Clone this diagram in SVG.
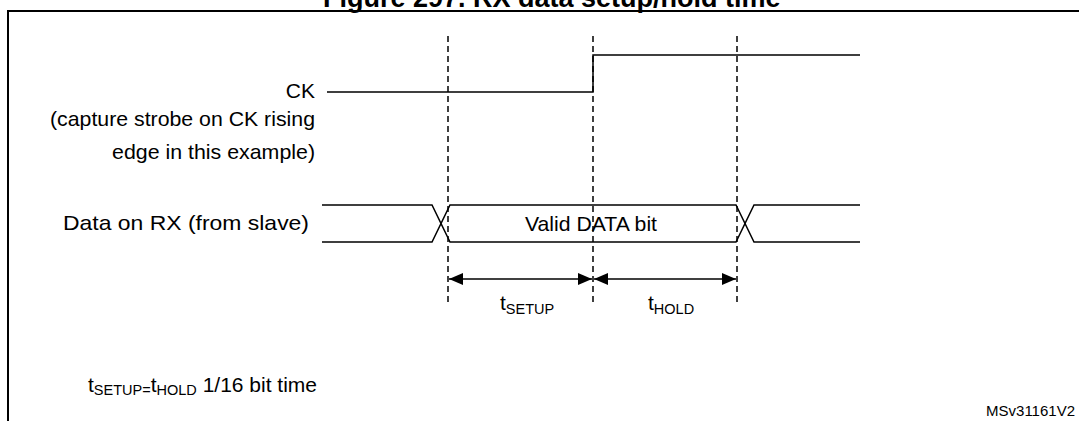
<svg xmlns="http://www.w3.org/2000/svg" width="1079" height="421" viewBox="0 0 1079 421">
<style>
.t{font-family:"Liberation Sans",Arial,sans-serif;fill:#000}
.lbl{font-size:21px}
.sig{stroke:#000;stroke-width:1.5;fill:none}
.dash{stroke:#000;stroke-width:1.5;stroke-dasharray:6 4;fill:none}
.dim{stroke:#000;stroke-width:1.5;fill:none;marker-start:url(#ah);marker-end:url(#ah)}
</style>
<defs>
<marker id="ah" viewBox="0 0 14 12" refX="14" refY="6" markerWidth="14" markerHeight="12" markerUnits="userSpaceOnUse" orient="auto-start-reverse">
<path d="M0,0 L14,6 L0,12 Z" fill="#000"/>
</marker>
</defs>
<rect width="1079" height="421" fill="#fff"/>
<text class="t" x="323" y="7" font-size="27" font-weight="bold">Figure 297. RX data setup/hold time</text>
<path d="M8,421 V11 H1079" stroke="#000" stroke-width="2" fill="none"/>
<g id="guides">
<line class="dash" x1="448" y1="36" x2="448" y2="302"/>
<line class="dash" x1="593" y1="36" x2="593" y2="302"/>
<line class="dash" x1="737" y1="36" x2="737" y2="302"/>
</g>
<g id="ck">
<text class="t lbl" x="315" y="98" text-anchor="end">CK</text>
<text class="t lbl" x="315" y="126" text-anchor="end" textLength="265" lengthAdjust="spacingAndGlyphs">(capture strobe on CK rising</text>
<text class="t lbl" x="315" y="159" text-anchor="end" textLength="203" lengthAdjust="spacingAndGlyphs">edge in this example)</text>
<path class="sig" d="M327,92 H593 V55 H860"/>
</g>
<g id="data">
<text class="t lbl" x="309" y="230" text-anchor="end" textLength="246" lengthAdjust="spacingAndGlyphs">Data on RX (from slave)</text>
<path class="sig" d="M322,205 H432 L450,242 H736 L754,205 H860"/>
<path class="sig" d="M322,242 H432 L450,205 H736 L754,242 H860"/>
<text class="t lbl" x="591" y="231" text-anchor="middle" textLength="132" lengthAdjust="spacingAndGlyphs">Valid DATA bit</text>
</g>
<g id="connectors">
<line class="dim" x1="449" y1="279" x2="592" y2="279"/>
<line class="dim" x1="594" y1="279" x2="736" y2="279"/>
</g>
<g id="labels">
<text class="t lbl" x="500" y="310">t<tspan font-size="14.5" dy="4">SETUP</tspan></text>
<text class="t lbl" x="648" y="310">t<tspan font-size="14.5" dy="4">HOLD</tspan></text>
<text class="t" x="88" y="392" font-size="21">t<tspan font-size="14.5" dy="3">SETUP=</tspan><tspan dy="-3">t</tspan><tspan font-size="14.5" dy="3">HOLD</tspan><tspan dy="-3"> 1/16 bit time</tspan></text>
<text class="t" x="1075" y="416" font-size="15" text-anchor="end">MSv31161V2</text>
</g>
</svg>
